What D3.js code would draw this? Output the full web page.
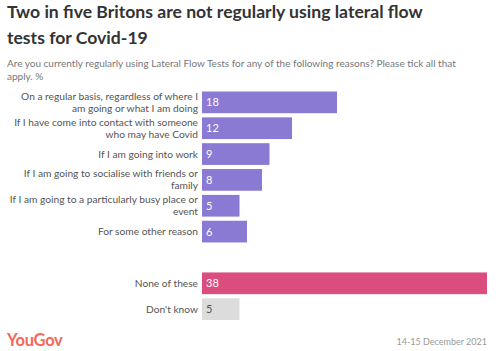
<!DOCTYPE html>
<html><head><meta charset="utf-8">
<script src="https://cdn.jsdelivr.net/npm/d3@7"></script>
<style>body{margin:0;background:#fff;} svg{display:block;font-family:Lato,"Open Sans",sans-serif;}</style>
</head><body>
<svg id="c" width="503" height="351"></svg>
<script>
const categories = [
  "On a regular basis, regardless of where I|am going or what I am doing",
  "If I have come into contact with someone|who may have Covid",
  "If I am going into work",
  "If I am going to socialise with friends or|family",
  "If I am going to a particularly busy place or|event",
  "For some other reason",
  "",
  "None of these",
  "Don't know"
];
const values = [18, 12, 9, 8, 5, 6, null, 38, 5];
const groups = ["reason","reason","reason","reason","reason","reason","blank","none","dk"];
const colors = {reason:"#8a7ad3", none:"#db4d7e", dk:"#dcdcdc"};
const textColors = {reason:"#fff", none:"#fff", dk:"#555"};

const svg = d3.select("#c");
svg.append("text").attr("x",7).attr("y",18).attr("font-size",17.6).attr("font-weight",700).attr("fill","#333")
  .text("Two in five Britons are not regularly using lateral flow");
svg.append("text").attr("x",7).attr("y",44).attr("font-size",17.6).attr("font-weight",700).attr("fill","#333")
  .text("tests for Covid-19");
svg.append("text").attr("x",7).attr("y",67).attr("font-size",10).attr("fill","#777")
  .text("Are you currently regularly using Lateral Flow Tests for any of the following reasons? Please tick all that");
svg.append("text").attr("x",7).attr("y",80).attr("font-size",10).attr("fill","#777").text("apply. %");

const x = d3.scaleLinear().domain([0, 38]).range([202, 487]);
const y = d3.scaleBand().domain(d3.range(categories.length)).range([91.5, 320]).paddingInner(0.16).paddingOuter(0);

const idx = d3.range(categories.length).filter(i => values[i] != null);
svg.selectAll("rect.bar").data(idx).join("rect").attr("class","bar")
  .attr("x", x(0)).attr("y", i => y(i)).attr("height", y.bandwidth())
  .attr("width", i => x(values[i]) - x(0)).attr("fill", i => colors[groups[i]]);

svg.selectAll("text.val").data(idx).join("text").attr("class","val")
  .attr("x", x(0) + 4).attr("y", i => y(i) + y.bandwidth()/2 + 4)
  .attr("font-size", 11).attr("fill", i => textColors[groups[i]]).text(i => values[i]);

const lab = svg.selectAll("text.lab").data(idx).join("text").attr("class","lab")
  .attr("text-anchor","end").attr("font-size",10.2).attr("fill","#555");
lab.each(function(i){
  const lines = categories[i].split("|");
  const cy = y(i) + y.bandwidth()/2;
  const lh = 12;
  const start = cy + 3.5 - (lines.length-1)*lh/2;
  d3.select(this).selectAll("tspan").data(lines).join("tspan")
    .attr("x", 198).attr("y", (d,k) => start + k*lh).text(d => d);
});

svg.append("text").attr("x",7).attr("y",345.5).attr("font-size",16.5).attr("font-weight",700)
  .attr("fill","#f4675b").attr("letter-spacing",-0.3).text("YouGov");
svg.append("text").attr("x",487).attr("y",345).attr("text-anchor","end").attr("font-size",9).attr("fill","#999")
  .text("14-15 December 2021");
</script>
</body></html>
